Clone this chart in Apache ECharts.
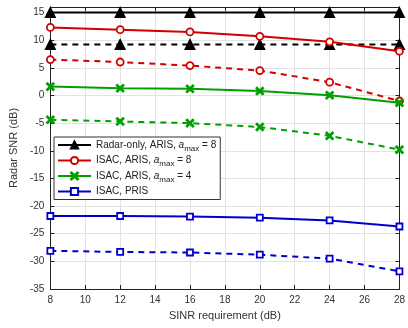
<!DOCTYPE html>
<html><head><meta charset="utf-8">
<script src="https://cdn.jsdelivr.net/npm/echarts@6/dist/echarts.min.js"></script>
<style>html,body{margin:0;padding:0;background:#fff}#c{width:408px;height:328px}</style>
</head><body><div id="c"></div>
<script>
const sinr = [8, 12, 16, 20, 24, 28];
const radarOnlySolid = [15, 15, 15, 15, 15, 15];
const radarOnlyDashed = [9.2, 9.2, 9.2, 9.2, 9.2, 9.2];
const arisA8Solid = [12.3, 11.9, 11.5, 10.7, 9.7, 8.0];
const arisA8Dashed = [6.5, 6.05, 5.4, 4.5, 2.4, -1.0];
const arisA4Solid = [1.6, 1.3, 1.2, 0.8, 0.05, -1.3];
const arisA4Dashed = [-4.4, -4.7, -5.0, -5.7, -7.3, -9.8];
const prisSolid = [-21.8, -21.8, -21.9, -22.1, -22.6, -23.7];
const prisDashed = [-28.1, -28.3, -28.4, -28.8, -29.5, -31.8];
const legendNames = ['Radar-only, ARIS, a_max = 8', 'ISAC, ARIS, a_max = 8', 'ISAC, ARIS, a_max = 4', 'ISAC, PRIS'];

const pair = (xs, ys) => xs.map((x, i) => [x, ys[i]]);
const FONT = 'Liberation Sans';
function mk(name, data, color, symbol, dashed, fillSym, symSize) {
  return {
    name, type: 'line', data: pair(sinr, data),
    symbol, symbolSize: symSize,
    showAllSymbol: true,
    lineStyle: { color, width: 2, type: dashed ? [6, 5] : 'solid' },
    itemStyle: { color: fillSym ? color : '#fff', borderColor: color, borderWidth: 1.8 },
    emphasis: { disabled: true },
    z: dashed ? 2 : 3
  };
}
const xPath = 'path://M1,0L5,4L9,0L10,1L6,5L10,9L9,10L5,6L1,10L0,9L4,5L0,1Z';
const series = [
  mk(legendNames[0], radarOnlySolid, '#000', 'triangle', false, true, 9),
  mk('r_d', radarOnlyDashed, '#000', 'triangle', true, true, 9),
  mk(legendNames[1], arisA8Solid, '#d00000', 'circle', false, false, 7),
  mk('a8_d', arisA8Dashed, '#d00000', 'circle', true, false, 7),
  mk(legendNames[2], arisA4Solid, '#00a000', xPath, false, true, 7),
  mk('a4_d', arisA4Dashed, '#00a000', xPath, true, true, 7),
  mk(legendNames[3], prisSolid, '#0000cc', 'rect', false, false, 6),
  mk('p_d', prisDashed, '#0000cc', 'rect', true, false, 6)
];

const rich = {
  n: { fontFamily: FONT, fontSize: 10, color: '#222' },
  i: { fontFamily: FONT, fontSize: 10, color: '#222', fontStyle: 'italic' },
  s: { fontFamily: FONT, fontSize: 8, color: '#222', padding: [7, 0, 0, 0] }
};
const chart = echarts.init(document.getElementById('c'), null, { renderer: 'canvas' });
chart.setOption({
  animation: false,
  backgroundColor: '#fff',
  grid: { left: 48, right: 3, top: 7, bottom: 39, containLabel: false },
  legend: {
    data: legendNames,
    left: 54, top: 137,
    orient: 'vertical',
    backgroundColor: '#fff',
    borderColor: '#333', borderWidth: 1,
    padding: [3, 4, 3, 3],
    itemGap: 3,
    itemWidth: 33, itemHeight: 9,
    selectedMode: false,
    formatter: function (name) {
      const p = name.split('a_max');
      if (p.length === 2) return '{n|' + p[0] + '}{i|a}{s|max}{n|' + p[1] + '}';
      return '{n|' + name + '}';
    },
    textStyle: { fontFamily: FONT, fontSize: 10, color: '#222', rich, padding: [0, 0, 0, 0] }
  },
  xAxis: [{
    type: 'value', min: 8, max: 28, interval: 2,
    name: 'SINR requirement (dB)', nameLocation: 'middle', nameGap: 21,
    nameTextStyle: { fontFamily: FONT, fontSize: 11, color: '#333' },
    axisLine: { onZero: false, lineStyle: { color: '#222', width: 1 } },
    axisTick: { inside: true, length: 4, lineStyle: { color: '#222' } },
    axisLabel: { fontFamily: FONT, fontSize: 10, color: '#333', margin: 6 },
    splitLine: { show: true, lineStyle: { color: '#e2e2e2', width: 1 } }
  }, {
    type: 'value', min: 8, max: 28, interval: 2, position: 'top',
    axisLine: { show: true, onZero: false, lineStyle: { color: '#222', width: 1 } },
    axisTick: { inside: true, length: 4, lineStyle: { color: '#222' } },
    axisLabel: { show: false }, splitLine: { show: false }
  }],
  yAxis: [{
    type: 'value', min: -35, max: 16, interval: 5,
    name: 'Radar SNR (dB)', nameLocation: 'middle', nameGap: 28,
    nameTextStyle: { fontFamily: FONT, fontSize: 11, color: '#333' },
    axisLine: { show: true, onZero: false, lineStyle: { color: '#222', width: 1 } },
    axisTick: { inside: true, length: 4, lineStyle: { color: '#222' } },
    axisLabel: { fontFamily: FONT, fontSize: 10, color: '#333', margin: 6,
      formatter: v => (v === 16 ? '' : String(v)) },
    splitLine: { show: true, lineStyle: { color: '#e2e2e2', width: 1 } }
  }, {
    type: 'value', min: -35, max: 16, interval: 5, position: 'right',
    axisLine: { show: true, onZero: false, lineStyle: { color: '#222', width: 1 } },
    axisTick: { inside: true, length: 4, lineStyle: { color: '#222' } },
    axisLabel: { show: false }, splitLine: { show: false }
  }],
  series
});
</script></body></html>
